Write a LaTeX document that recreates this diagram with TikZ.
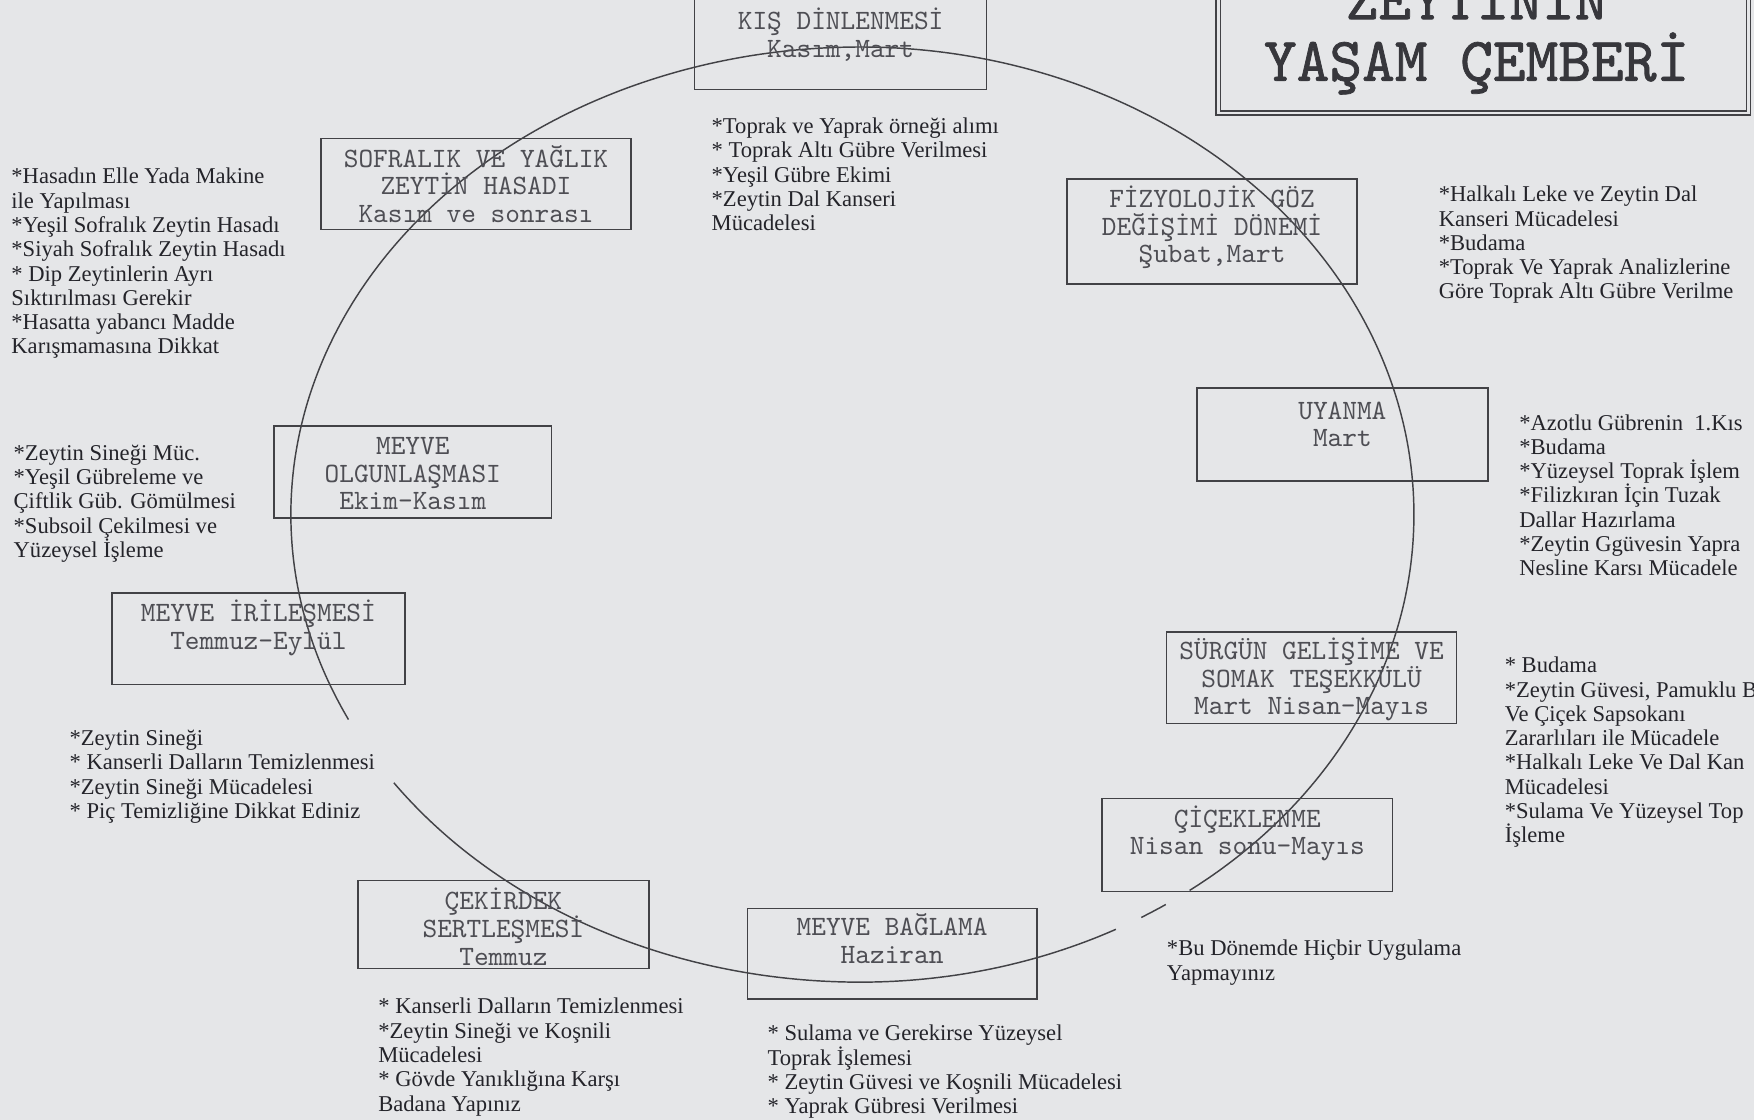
\documentclass[tikz,border=0pt]{standalone}
\usepackage{fontspec}
\setmainfont{Liberation Serif}
\newfontfamily\titlefont[FakeBold=1.2]{lmmono10-regular.otf}
\newfontfamily\stagefont{lmmono10-regular.otf}
\definecolor{paper}{RGB}{229,230,232}
\definecolor{linecol}{RGB}{66,66,70}
\definecolor{notecol}{RGB}{36,36,42}
\definecolor{boxtext}{RGB}{78,78,84}
\definecolor{titlecol}{RGB}{55,55,60}
\newcommand\mystrut{\rule{0pt}{1em}}
\begin{document}
\begin{tikzpicture}[x=1pt,y=-1pt,
  note/.style={anchor=north west, inner sep=0pt, align=left, text=notecol, font=\fontsize{20.2}{21.7}\selectfont},
  stagebox/.style={draw=linecol, line width=1.3pt, inner sep=0pt},
  stagetext/.style={anchor=north, inner sep=0pt, align=center, text=boxtext, font=\stagefont\fontsize{25}{24.5}\selectfont},
  cycleline/.style={draw=linecol, line width=1.3pt}]
\useasboundingbox (0,0) rectangle (1568,1001);
\fill[paper] (0,0) rectangle (1568,1001);
\clip (0,0) rectangle (1568,1001);

% title
\node[draw=linecol, double=paper, double distance=2.5pt, line width=1.2pt, minimum width=474pt, minimum height=112pt, inner sep=0pt] (titlebox) at (1326,45) {};
\node[anchor=north, inner sep=0pt, align=center, text=titlecol, font=\titlefont\fontsize{55.7}{55}\selectfont] (title) at (1320,-38.7) {\mystrut ZEYTİNİN\\YAŞAM ÇEMBERİ};

% cycle line (ellipse, slightly narrower on the right, with gaps)
\draw[cycleline] plot[domain=154:413.5, samples=300, smooth] ({769+(cos(\x)>0 ? 495 : 509)*cos(\x)}, {460+418*sin(\x)});
\draw[cycleline] plot[domain=416.5:419.5, samples=6, smooth] ({769+(cos(\x)>0 ? 495 : 509)*cos(\x)}, {460+418*sin(\x)});
\draw[cycleline] plot[domain=422.5:505, samples=100, smooth] ({769+(cos(\x)>0 ? 495 : 509)*cos(\x)}, {460+418*sin(\x)});

% stage boxes
\node[stagebox, minimum width=261pt, minimum height=82pt] (kis) at (751.5,39) {};
\node[stagetext] (kist) at (751.5,1.5) {\mystrut KIŞ DİNLENMESİ\\Kasım,Mart};

\node[stagebox, minimum width=277pt, minimum height=81pt] (sofra) at (425.5,164.5) {};
\node[stagetext] (sofrat) at (425.5,124.5) {\mystrut SOFRALIK VE YAĞLIK\\ZEYTİN HASADI\\Kasım ve sonrası};

\node[stagebox, minimum width=259pt, minimum height=94pt] (fizyo) at (1083.5,207) {};
\node[stagetext] (fizyot) at (1083.5,160.5) {\mystrut FİZYOLOJİK GÖZ\\DEĞİŞİMİ DÖNEMİ\\Şubat,Mart};

\node[stagebox, minimum width=260pt, minimum height=83pt] (uyan) at (1200,388.5) {};
\node[stagetext] (uyant) at (1200,349.5) {\mystrut UYANMA\\Mart};

\node[stagebox, minimum width=259pt, minimum height=82pt] (surgun) at (1172.5,606) {};
\node[stagetext] (surgunt) at (1172.5,564.5) {\mystrut SÜRGÜN GELİŞİME VE\\SOMAK TEŞEKKÜLÜ\\Mart Nisan-Mayıs};

\node[stagebox, minimum width=260pt, minimum height=83pt] (cicek) at (1115,755.5) {};
\node[stagetext] (cicekt) at (1115,714.5) {\mystrut ÇİÇEKLENME\\Nisan sonu-Mayıs};

\node[stagebox, minimum width=259pt, minimum height=81pt] (bagla) at (797.5,852.5) {};
\node[stagetext] (baglat) at (797.5,811.5) {\mystrut MEYVE BAĞLAMA\\Haziran};

\node[stagebox, minimum width=260pt, minimum height=79pt] (cekir) at (450,826.5) {};
\node[stagetext] (cekirt) at (450,787.5) {\mystrut ÇEKİRDEK\\SERTLEŞMESİ\\Temmuz};

\node[stagebox, minimum width=262pt, minimum height=82pt] (iri) at (231,571) {};
\node[stagetext] (irit) at (231,530.5) {\mystrut MEYVE İRİLEŞMESİ\\Temmuz-Eylül};

\node[stagebox, minimum width=248pt, minimum height=82pt] (olgun) at (369,422) {};
\node[stagetext] (olgunt) at (369,381.5) {\mystrut MEYVE\\OLGUNLAŞMASI\\Ekim-Kasım};

% notes
\node[note] (na) at (10,144) {\mystrut *Hasadın Elle Yada Makine\\ile Yapılması\\*Yeşil Sofralık Zeytin Hasadı\\*Siyah Sofralık Zeytin Hasadı\\* Dip Zeytinlerin Ayrı\\Sıktırılması Gerekir\\*Hasatta yabancı Madde\\Karışmamasına Dikkat};

\node[note] (nb) at (636,99) {\mystrut *Toprak ve Yaprak örneği alımı\\* Toprak Altı Gübre Verilmesi\\*Yeşil Gübre Ekimi\\*Zeytin Dal Kanseri\\Mücadelesi};

\node[note] (nc) at (1286,160) {\mystrut *Halkalı Leke ve Zeytin Dal\\Kanseri Mücadelesi\\*Budama\\*Toprak Ve Yaprak Analizlerine\\Göre Toprak Altı Gübre Verilme};

\node[note] (nd) at (1358,364) {\mystrut *Azotlu Gübrenin\ \ 1.Kıs\\*Budama\\*Yüzeysel Toprak İşlem\\*Filizkıran İçin Tuzak\\Dallar Hazırlama\\*Zeytin Ggüvesin Yapra\\Nesline Karsı Mücadele};

\node[note] (ne) at (1345,581) {\mystrut * Budama\\*Zeytin Güvesi, Pamuklu B\\Ve Çiçek Sapsokanı\\Zararlıları ile Mücadele\\*Halkalı Leke Ve Dal Kan\\Mücadelesi\\*Sulama Ve Yüzeysel Top\\İşleme};

\node[note] (nf) at (1043,834) {\mystrut *Bu Dönemde Hiçbir Uygulama\\Yapmayınız};

\node[note] (ng) at (12,391) {\mystrut *Zeytin Sineği Müc.\\*Yeşil Gübreleme ve\\Çiftlik Güb. Gömülmesi\\*Subsoil Çekilmesi ve\\Yüzeysel İşleme};

\node[note] (nh) at (62,646) {\mystrut *Zeytin Sineği\\* Kanserli Dalların Temizlenmesi\\*Zeytin Sineği Mücadelesi\\* Piç Temizliğine Dikkat Ediniz};

\node[note] (ni) at (338,886) {\mystrut * Kanserli Dalların Temizlenmesi\\*Zeytin Sineği ve Koşnili\\Mücadelesi\\* Gövde Yanıklığına Karşı\\Badana Yapınız};

\node[note] (nj) at (686,910) {\mystrut * Sulama ve Gerekirse Yüzeysel\\Toprak İşlemesi\\* Zeytin Güvesi ve Koşnili Mücadelesi\\* Yaprak Gübresi Verilmesi};
\end{tikzpicture}
\end{document}
